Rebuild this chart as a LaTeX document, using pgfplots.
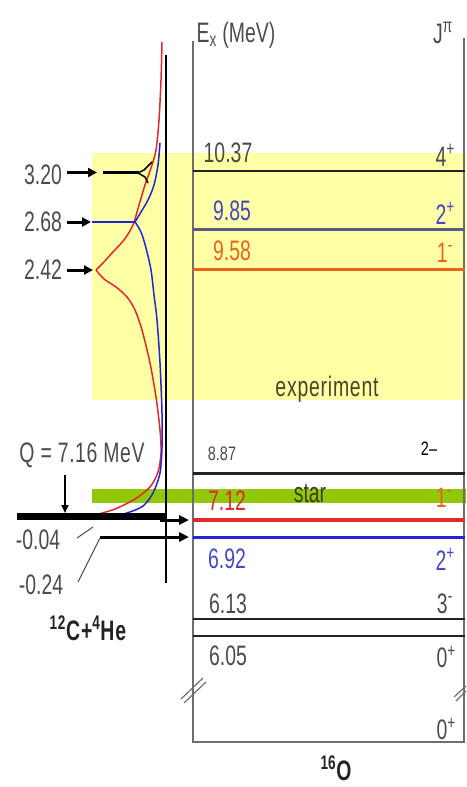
\documentclass[border=0pt]{standalone}
\usepackage{fontspec}
\setmainfont{Liberation Sans}
\usepackage{pgfplots}
\pgfplotsset{compat=1.18}
\usetikzlibrary{arrows.meta}
\definecolor{yel}{RGB}{255,255,165}
\definecolor{grn}{RGB}{145,200,10}
\definecolor{myred}{RGB}{225,40,45}
\definecolor{myorange}{RGB}{230,100,30}
\definecolor{myblue}{RGB}{35,35,215}
\definecolor{txtblue}{RGB}{70,70,200}
\definecolor{grayblue}{RGB}{90,90,135}
\definecolor{dk}{RGB}{35,35,35}
\definecolor{txtgray}{RGB}{75,75,75}
\definecolor{boxgray}{RGB}{110,110,110}
\newcommand\fs{\fontsize{19.5}{20}\selectfont}
\newcommand\fss{\fontsize{14.5}{16}\selectfont}
\newcommand\T[1]{\scalebox{1}[1.45]{#1}}
\newcommand\Ts[1]{\scalebox{1}[1.35]{#1}}
\begin{document}
\begin{tikzpicture}
\begin{axis}[scale only axis, width=466bp, height=787bp,
  xmin=0, xmax=466, ymin=0, ymax=787, y dir=reverse,
  hide axis, clip=false]
\addplot[draw=none] coordinates {(0,0) (466,787)};
% bands
\addplot[fill=yel, draw=none] coordinates {(92,153) (466,153) (466,400) (92,400)};
\addplot[fill=grn, draw=none] coordinates {(92,489) (466,489) (466,503) (92,503)};
% box
\addplot[boxgray, line width=1.5bp] coordinates {(193,41) (193,742) (464,742) (464,38)};
% break marks
\addplot[boxgray, line width=1.2bp] coordinates {(181,699) (203,678)};
\addplot[boxgray, line width=1.2bp] coordinates {(184,703) (206,682)};
\addplot[boxgray, line width=1.2bp] coordinates {(454,697) (466,686)};
\addplot[boxgray, line width=1.2bp] coordinates {(456,701) (466,691)};
% levels
\addplot[dk, line width=2.5bp] coordinates {(193,171) (465,171)};
\addplot[grayblue, line width=2.5bp] coordinates {(193,229.5) (465,229.5)};
\addplot[myorange, line width=2.5bp] coordinates {(193,269.5) (465,269.5)};
\addplot[dk, line width=2.5bp] coordinates {(193,473.5) (465,473.5)};
\addplot[myred, line width=3.5bp] coordinates {(193,520) (465,520)};
\addplot[myblue, line width=3bp] coordinates {(193,537) (465,537)};
\addplot[dk, line width=2.5bp] coordinates {(193,619) (465,619)};
\addplot[dk, line width=2.5bp] coordinates {(193,636) (465,636)};
% left vertical
\addplot[black, line width=1.5bp] coordinates {(166,55) (166,583)};
% curves
\addplot[myred, line width=1.5bp, smooth] coordinates {(162,42) (161,80) (159,120) (156,150) (151,168) (145,185) (139,205) (133,225) (124,240) (112,253) (103,263) (96,270)};
\addplot[myred, line width=1.5bp, smooth] coordinates {(96,270) (104,279) (116,287) (127,297) (135,310) (142,330) (150,363) (156,397) (160,430) (161,453) (158,472) (150,487) (135,499) (115,509) (95,515)};
\addplot[myblue, line width=1.5bp, smooth] coordinates {(160,143) (158,165) (154,185) (148,200) (141,212) (135,222)};
\addplot[myblue, line width=1.8bp] coordinates {(92,222) (135,222)};
\addplot[myblue, line width=1.5bp, smooth] coordinates {(135,222) (141,232) (146,248) (151,270) (154,295) (157,320) (160,363) (162,413) (162,447) (160,473) (153,493) (143,506) (127,513) (110,517)};
\addplot[black, line width=1.5bp] coordinates {(152,162) (144,170) (138,173)};
\addplot[black, line width=1.5bp] coordinates {(138,173) (145,177) (148,183)};
\addplot[black, line width=3bp] coordinates {(103,173) (139,173)};
% left arrows
\addplot[black, line width=3bp, -{Triangle[length=9bp,width=9bp]}] coordinates {(67,172.5) (97,172.5)};
\addplot[black, line width=3bp, -{Triangle[length=9bp,width=9bp]}] coordinates {(67,222) (91,222)};
\addplot[black, line width=3bp, -{Triangle[length=9bp,width=9bp]}] coordinates {(67,270) (93,270)};
% ground line and arrows
\addplot[black, line width=7bp] coordinates {(17,516) (166,516)};
\addplot[black, line width=3bp, -{Triangle[length=10bp,width=9bp]}] coordinates {(160,520) (189,520)};
\addplot[black, line width=3bp, -{Triangle[length=10bp,width=9bp]}] coordinates {(100,537) (189,537)};
\addplot[black, line width=2bp, -{Triangle[length=8bp,width=7bp]}] coordinates {(65,475) (65,513)};
\addplot[txtgray, line width=1bp] coordinates {(77,538) (93,527)};
\addplot[txtgray, line width=1bp] coordinates {(78,582) (100,538)};
% texts
\node[font=\fs, text=txtgray, inner sep=0] at (axis cs:236,35) {\T{E\textsubscript{x} (MeV)}};
\node[font=\fs, text=txtgray, inner sep=0] at (axis cs:443,33) {\T{J\textsuperscript{π}}};
\node[font=\fs, text=txtgray, inner sep=0] at (axis cs:228,153) {\T{10.37}};
\node[font=\fs, text=txtgray, inner sep=0, anchor=east] at (axis cs:455,155) {\T{4\textsuperscript{+}}};
\node[font=\fs, text=txtblue, inner sep=0] at (axis cs:232,211) {\T{9.85}};
\node[font=\fs, text=txtblue, inner sep=0, anchor=east] at (axis cs:455,213) {\T{2\textsuperscript{+}}};
\node[font=\fs, text=myorange, inner sep=0] at (axis cs:232,251) {\T{9.58}};
\node[font=\fs, text=myorange, inner sep=0, anchor=east] at (axis cs:453,253) {\T{1\textsuperscript{-}}};
\node[font=\fs, text={rgb,255:red,70;green,70;blue,40}, inner sep=0] at (axis cs:327,389) {\T{\addfontfeature{LetterSpace=4}experiment}};
\node[font=\fss, text=txtgray, inner sep=0] at (axis cs:222,454) {\Ts{8.87}};
\node[font=\fss, text=black, inner sep=0] at (axis cs:429,449) {\Ts{2–}};
\node[font=\fs, text={rgb,255:red,60;green,60;blue,20}, inner sep=0] at (axis cs:310,494) {\T{star}};
\node[font=\fs, text=myred, inner sep=0] at (axis cs:227,501) {\T{7.12}};
\node[font=\fs, text=myorange, inner sep=0, anchor=east] at (axis cs:452,498) {\T{1\textsuperscript{-}}};
\node[font=\fs, text=txtblue, inner sep=0] at (axis cs:227,559) {\T{6.92}};
\node[font=\fs, text=txtblue, inner sep=0, anchor=east] at (axis cs:455,559) {\T{2\textsuperscript{+}}};
\node[font=\fs, text=txtgray, inner sep=0] at (axis cs:228,604) {\T{6.13}};
\node[font=\fs, text=txtgray, inner sep=0, anchor=east] at (axis cs:453,604) {\T{3\textsuperscript{-}}};
\node[font=\fs, text=txtgray, inner sep=0] at (axis cs:228,656) {\T{6.05}};
\node[font=\fs, text=txtgray, inner sep=0, anchor=east] at (axis cs:456,657) {\T{0\textsuperscript{+}}};
\node[font=\fs, text=txtgray, inner sep=0, anchor=east] at (axis cs:456,729) {\T{0\textsuperscript{+}}};
\node[font=\fs\bfseries, text=dk, inner sep=0] at (axis cs:336,768) {\T{\textsuperscript{16}O}};
\node[font=\fs, text=txtgray, inner sep=0] at (axis cs:43,175) {\T{3.20}};
\node[font=\fs, text=txtgray, inner sep=0] at (axis cs:43,222) {\T{2.68}};
\node[font=\fs, text=txtgray, inner sep=0] at (axis cs:43,270) {\T{2.42}};
\node[font=\fs, text=txtgray, inner sep=0] at (axis cs:82,455) {\T{\addfontfeature{LetterSpace=3}Q = 7.16 MeV}};
\node[font=\fs, text=txtgray, inner sep=0] at (axis cs:38,540) {\T{-0.04}};
\node[font=\fs, text=txtgray, inner sep=0] at (axis cs:41,585) {\T{-0.24}};
\node[font=\fs\bfseries, text=dk, inner sep=0] at (axis cs:88,628) {\T{\addfontfeature{LetterSpace=5}\textsuperscript{12}C+\textsuperscript{4}He}};
\end{axis}
\end{tikzpicture}
\end{document}
